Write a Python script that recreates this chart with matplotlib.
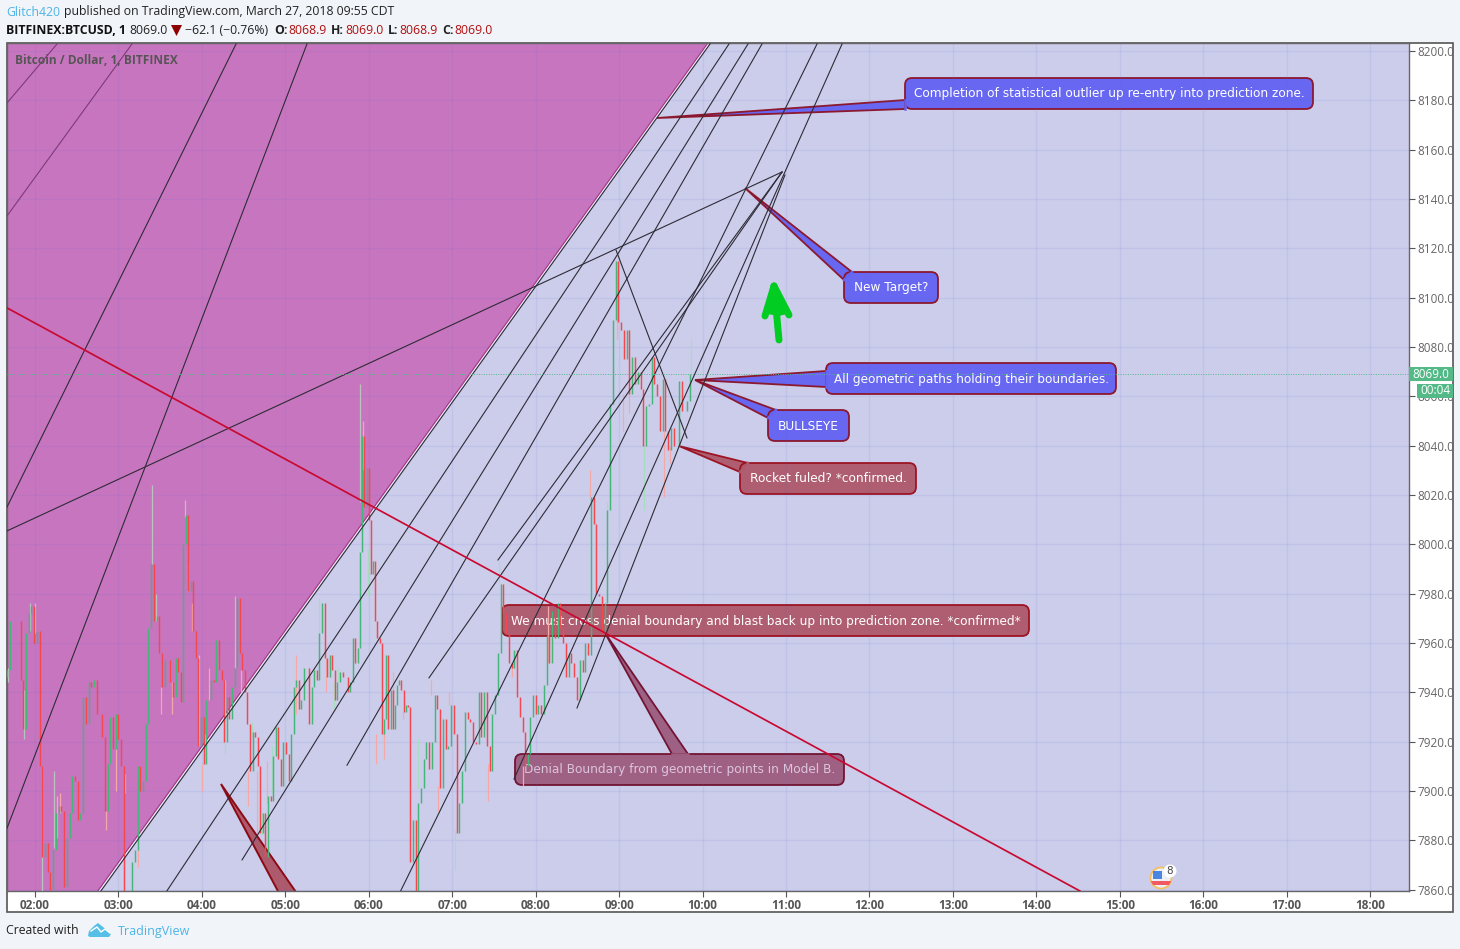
import numpy as np
import matplotlib
matplotlib.use("Agg")
import matplotlib.pyplot as plt
from matplotlib.patches import Polygon, Rectangle, Circle, FancyBboxPatch
from matplotlib.transforms import Affine2D

# 1 minute BTCUSD (every 2nd bar or so), prices in USD
closes_a = [7949, 7969, 7969, 7969, 7969, 7945, 7925, 7964, 7972, 7975, 7960, 7965, 7910, 7873, 7879, 7867,
            7860, 7876, 7891, 7894, 7892, 7861, 7881, 7891, 7906, 7904, 7888, 7891, 7938, 7927, 7944, 7942,
            7945, 7931, 7931, 7922, 7892, 7911, 7930, 7917, 7931, 7921, 7910, 7859, 7855, 7855, 7871, 7876,
            7910, 7900, 7904, 7927, 7966, 7992, 7969, 7971, 7956, 7942, 7953, 7953, 7944, 7938, 7954, 7948,
            7936]
closes_b = [8000, 8012, 7981, 7985, 7965, 7954, 7918, 7930, 7911, 7937, 7937, 7945, 7944, 7961, 7949, 7945,
            7920, 7938, 7929, 7942, 7950, 7978, 7956, 7949, 7940, 7927, 7908, 7924, 7922, 7910, 7883, 7891,
            7873, 7898, 7896, 7914, 7926, 7913, 7902, 7920, 7915, 7904, 7923, 7942, 7945, 7933, 7937, 7950,
            7950, 7927, 7942, 7949, 7945, 7964, 7976, 7954, 7946, 7955, 7949, 7937, 7944, 7948, 7946, 7946,
            7940, 7944, 7962, 7952, 7958]
closes_c = [7997, 8044, 8015, 8031, 8010, 7988, 7993, 7969, 7962, 7960, 7923,
            7929, 7955, 7925, 7941, 7925, 7935, 7943, 7945, 7941, 7932, 7935, 7934]
closes_e = [7871, 7888, 7859, 7895,
            7901, 7913, 7920, 7909, 7920, 7939, 7933, 7901, 7929, 7917, 7918, 7935, 7923, 7883, 7895, 7908,
            7932, 7929, 7928, 7920, 7919, 7940, 7922, 7940, 7918, 7908, 7931, 7939, 7956, 7984, 7972, 7964,
            7952, 7950, 7957, 7938, 7930, 7924, 7910, 7915]
closes_d = [7930, 7939, 7931, 7935, 7931, 7943, 7963, 7952, 7973, 7962, 7976, 7966, 7960, 7946, 7956, 7952,
            7946, 7937, 7953, 7948, 7960, 7955, 8019, 8008, 7980, 7979, 7964, 7976, 8014, 8057, 8091, 8115,
            8090, 8087, 8075, 8087, 8061, 8076, 8065, 8070, 8063, 8040, 8056, 8057, 8076, 8065, 8060, 8046,
            8067, 8046, 8038, 8047, 8040, 8040, 8066, 8054, 8054, 8058, 8069, 8069]
# hour of first and last bar for each block
block_a = (1.664, 3.750)
block_b = (3.774, 5.871)
block_c = (5.895, 6.470)
block_e = (6.494, 7.908)
block_d = (7.932, 9.885)

wick_hour = [1.676, 1.868, 1.937, 2.0, 2.084, 2.228, 2.264, 2.30, 2.851, 2.974, 3.079, 3.234, 3.402, 3.450, 3.510,
             3.642, 3.797, 3.833, 3.881, 3.965, 4.001, 4.037, 4.085, 4.205, 4.277, 4.397, 4.469, 4.552, 4.600,
             4.660, 4.720, 4.780, 4.840, 5.128, 5.403, 5.487, 5.583, 5.631, 5.895, 5.925, 5.990, 6.086, 6.188,
             6.290, 6.410, 6.590, 6.745, 6.829, 6.957, 7.033, 7.434, 7.560, 7.716, 7.848, 8.147, 8.651, 8.854,
             8.974, 9.046, 9.118, 9.294, 9.537, 9.609, 9.857]
wick_high = [7950, 7941, 7976, 7976, 7909, 7908, 7898, 7899, 7892, 7917, 7907, 7876, 8024, 7980, 7942,
             7944, 8018, 7992, 7976, 7955, 7911, 7923, 7950, 7955, 7945, 7979, 7949, 7908, 7928,
             7908, 7891, 7912, 7918, 7955, 7978, 7954, 7944, 7950, 8065, 8050, 7998, 7923, 7925,
             7948, 7932, 7921, 7945, 7902, 7940, 7884, 7911, 7993, 7952, 7910, 7975, 8030, 8017,
             8111, 8061, 8065, 8040, 8046, 8040, 8083]
wick_low = [7944, 7921, 7965, 7964, 7859, 7877, 7881, 7891, 7884, 7900, 7899, 7869, 7992, 7969, 7931,
            7931, 8011, 7981, 7965, 7918, 7900, 7911, 7937, 7949, 7915, 7950, 7940, 7894, 7922,
            7883, 7882, 7895, 7899, 7931, 7964, 7940, 7933, 7944, 8017, 8030, 7979, 7911, 7913,
            7935, 7929, 7901, 7939, 7892, 7935, 7868, 7896, 7984, 7946, 7902, 7952, 8019, 8012,
            8083, 8046, 8053, 8014, 8019, 8033, 8069]
wick_kind = "sssssssrrrrrssrrssrsrgrsgsrrgrgrgrgrggsrgrrrrgrrrgrgrrrrgrrrgrrg"

# trend lines: hour0, price0, hour1, price1
thin_lines = [(1.665, 8178.9, 2.264, 8202.8), (1.665, 8133.1, 3.162, 8202.8)]
black_lines = [(1.665, 8015.1, 4.409, 8202.8), (1.665, 7884.9, 5.259, 8202.8), (1.665, 8005.4, 10.952, 8150.9),
               (8.962, 8119.3, 9.813, 8043.1), (2.779, 7858.9, 10.089, 8202.8), (3.570, 7858.9, 10.316, 8202.8),
               (4.481, 7872.0, 10.544, 8202.8), (5.739, 7910.4, 10.712, 8202.8), (6.721, 7945.8, 10.952, 8150.9),
               (7.548, 7993.6, 10.952, 8150.9), (6.374, 7858.9, 11.371, 8202.8), (7.740, 7904.8, 11.671, 8202.8),
               (8.495, 7933.6, 10.987, 8149.7)]
denial_line = (1.665, 8095.8, 14.522, 7859.4)
zone_edge = (2.743, 7858.9, 10.065, 8203.2)
gap_line = (2.761, 7858.9, 10.077, 8203.0)
last_price = 8069.0

hours = list(range(2, 19))
prices = list(range(7860, 8201, 20))

BLUE = '#6464f2'
RED = '#ad5a6c'
PLUM = '#9e5e80'
EDGE = '#8c1428'

callouts = [
    ("Completion of statistical outlier up re-entry into prediction zone.", (905, 78, 1313, 109), (657, 118), [(905, 100), (905, 109)], BLUE, EDGE, 'white'),
    ("New Target?", (844, 272, 938, 303), (745, 188), [(852, 272), (844, 280)], BLUE, EDGE, 'white'),
    ("All geometric paths holding their boundaries.", (826, 363, 1116, 394), (695, 380), [(826, 371), (826, 387)], BLUE, EDGE, 'white'),
    ("BULLSEYE", (768, 410, 849, 441), (695, 380), [(776, 410), (768, 418)], BLUE, EDGE, 'white'),
    ("Rocket fuled? *confirmed.", (740, 463, 916, 494), (679, 446), [(748, 463), (740, 472)], RED, '#9c1020', 'white'),
    ("We must cross denial boundary and blast back up into prediction zone. *confirmed*", (502, 605, 1029, 636), None, None, RED, '#9c1020', 'white'),
    ("Denial Boundary from geometric points in Model B.", (515, 754, 844, 785), (605, 633), [(672, 754), (688, 754)], PLUM, '#70102f', '#dcc4dc'),
]

fig = plt.figure(figsize=(14.6, 9.49), dpi=100, facecolor='#f1f4f8')
px = Affine2D().scale(1, -1).translate(0, 949)

fig.add_artist(Rectangle((7, 43), 1446, 869, transform=px, fc='white', ec='#555555', lw=1.2, zorder=-1))

ax = fig.add_axes([7 / 1460, (949 - 891) / 949, 1402 / 1460, 848 / 949], zorder=1)
ax.set_xlim(1.6645, 18.465)
ax.set_ylim(7859.4, 8203.2)
ax.set_facecolor('#cccdeb')

# zone above the channel
ax.add_patch(Polygon([(1.0, zone_edge[1]), (zone_edge[0], zone_edge[1]), (zone_edge[2], zone_edge[3]), (1.0, zone_edge[3])],
                     fc='#c875bf', ec='none', zorder=1))
ax.plot([zone_edge[0], zone_edge[2]], [zone_edge[1], zone_edge[3]], color='#a83a8c', lw=1.0, zorder=1.2)
ax.plot([gap_line[0], gap_line[2]], [gap_line[1], gap_line[3]], color='white', lw=0.8, alpha=0.7, zorder=1.2)

ax.set_xticks(hours)
ax.set_xticklabels(['%02d:00' % h for h in hours], fontsize=8.5, color='#555555', fontweight='bold', family='Open Sans')
ax.yaxis.tick_right()
ax.set_yticks(prices)
ax.set_yticklabels(['%.1f' % p for p in prices], fontsize=8.5, color='#666666', family='Open Sans')
ax.tick_params(axis='x', length=4, width=0.8, color='#555555', pad=1.5)
ax.tick_params(axis='y', length=4, width=0.8, color='#555555', pad=2)
ax.grid(True, color='#5a6ad0', alpha=0.10, lw=1.0, zorder=1.5)
ax.set_axisbelow(False)
for gl in ax.get_xgridlines() + ax.get_ygridlines():
    gl.set_zorder(1.5)
for s in ax.spines.values():
    s.set_color('#666666')
    s.set_linewidth(1.0)

# callouts under the bars, the bars show on top of them
for label, box, tip, base, fill, edge, tcolor in callouts:
    x0, y0, x1, y1 = box
    r = 7
    if tip is not None:
        ax.add_patch(Polygon([tip, base[0], base[1]], transform=px, fc=fill, ec=edge, lw=1.3, alpha=0.97, zorder=2))
    ax.add_patch(FancyBboxPatch((x0 + r, y0 + r), x1 - x0 - 2 * r, y1 - y0 - 2 * r, boxstyle='round,pad=%d,rounding_size=%d' % (r, r),
                                transform=px, fc=fill, ec=edge, lw=1.3, alpha=0.97, zorder=2.1))
    if tip is not None:
        # open the border where the tail joins the box
        ax.plot([base[0][0], base[1][0]], [base[0][1], base[1][1]], transform=px, color=fill, lw=1.8, zorder=2.15)
    ax.text((x0 + x1) / 2, (y0 + y1) / 2 + 0.5, label, transform=px, ha='center', va='center', color=tcolor, fontsize=8.7,
            family='DejaVu Sans', zorder=2.2)

# tail of a callout sitting below the visible range
ax.add_patch(Polygon([(221, 784), (298, 895), (280, 895)], transform=px, fc=RED, ec='#8c0a14', lw=1.4, zorder=2))

# bars
closes = np.array(closes_a + closes_b + closes_c + closes_e + closes_d, dtype=float)
bar_hours = np.concatenate([np.linspace(*block_a, len(closes_a)), np.linspace(*block_b, len(closes_b)),
                            np.linspace(*block_c, len(closes_c)), np.linspace(*block_e, len(closes_e)),
                            np.linspace(*block_d, len(closes_d))])
opens = np.concatenate([[closes[0] - 3], closes[:-1]])
wick_colors = {'s': '#b9c4c0', 'r': '#f5a8a8', 'g': '#a8dcc0'}
ax.vlines(wick_hour, wick_low, wick_high, colors=[wick_colors[k] for k in wick_kind], lw=0.9, zorder=2.8)
bar_colors = ['#45b57a' if c >= o else '#f4474f' for o, c in zip(opens, closes)]
ax.vlines(bar_hours, opens, closes, colors=bar_colors, lw=1.05, zorder=3)

for h0, p0, h1, p1 in thin_lines:
    ax.plot([h0, h1], [p0, p1], color='#7c3a78', lw=0.8, zorder=4)
for h0, p0, h1, p1 in black_lines:
    ax.plot([h0, h1], [p0, p1], color='#2e2b36', lw=0.8, zorder=4)
ax.plot([denial_line[0], denial_line[2]], [denial_line[1], denial_line[3]], color='#c80a32', lw=1.25, zorder=4.2)
ax.axhline(last_price, color='#53b987', lw=0.7, ls=(0, (1, 1.5)), zorder=4)

# green arrow
ax.add_patch(Polygon([(774, 286), (787, 314), (779, 316), (767, 314)], transform=px, fc='#00cc22', ec='none', zorder=5))
for a, b in [((774, 286), (779, 340)), ((774, 286), (765, 316)), ((774, 286), (789, 315))]:
    ax.plot([a[0], b[0]], [a[1], b[1]], transform=px, color='#00cc22', lw=5, solid_capstyle='round', zorder=5)

ax.text(15, 60, "Bitcoin / Dollar, 1, BITFINEX", transform=px, fontsize=8.55, color='#555555', fontweight='bold', va='center',
        family='Open Sans', zorder=5)

# event badge
badge = Circle((1161, 878), 10.5, transform=px, fc='#eef0f8', ec='#f4bf5e', lw=1.3, zorder=5)
ax.add_patch(badge)
flag_blue = Rectangle((1153, 871), 9, 8, transform=px, fc='#4a86e0', ec='none', zorder=5.1)
flag_red = Rectangle((1150, 881), 22, 3.5, transform=px, fc='#f05a60', ec='none', zorder=5.1)
ax.add_patch(flag_blue)
ax.add_patch(flag_red)
flag_red.set_clip_path(badge)
ax.add_patch(Circle((1170, 871), 6.5, transform=px, fc='white', ec='none', zorder=5.2))
ax.text(1170, 871, "8", transform=px, ha='center', va='center', fontsize=7.5, color='#444444', zorder=5.3)

# last price labels
fig.add_artist(Rectangle((1409, 367), 44, 14, transform=px, fc='#53b987', ec='none', zorder=10))
fig.add_artist(Rectangle((1417, 384), 36, 14, transform=px, fc='#53b987', ec='none', zorder=10))
fig.text(1431, 374, "8069.0", transform=px, color='white', fontsize=8.5, ha='center', va='center', family='Open Sans', zorder=11)
fig.text(1435, 391, "00:04", transform=px, color='white', fontsize=8.5, ha='center', va='center', family='Open Sans', zorder=11)

# header
HF = 'Open Sans'
FS = 8.8
fig.text(6, 12, "Glitch420", transform=px, color='#4db4e6', fontsize=FS, va='center', family=HF)
fig.text(64, 12, "published on TradingView.com, March 27, 2018 09:55 CDT", transform=px, color='#222222', fontsize=FS, va='center', family=HF)
fig.text(6, 30, "BITFINEX:BTCUSD, 1", transform=px, color='#111111', fontsize=FS, va='center', fontweight='bold', family=HF)
fig.text(129, 30, "8069.0", transform=px, color='#222222', fontsize=FS, va='center', family=HF)
fig.add_artist(Polygon([(171, 25), (182, 25), (176.5, 36)], transform=px, fc='#8c0000', ec='none'))
fig.text(185, 30, "\u221262.1 (\u22120.76%)", transform=px, color='#222222', fontsize=FS, va='center', family=HF)
for lx, vx, name, val in [(274, 288, "O:", "8068.9"), (331, 345, "H:", "8069.0"), (388, 399, "L:", "8068.9"), (442, 454, "C:", "8069.0")]:
    fig.text(lx, 30, name, transform=px, color='#222222', fontsize=FS, va='center', fontweight='bold', family=HF)
    fig.text(vx, 30, val, transform=px, color='#b01010', fontsize=FS, va='center', family=HF)

# footer
fig.text(6, 931, "Created with", transform=px, color='#222222', fontsize=FS, va='center', family=HF)
fig.add_artist(Polygon([(88, 936), (89, 931), (94, 926), (98, 923), (103, 927), (107, 930), (111, 934), (109, 937), (90, 937)],
                       transform=px, fc='#55bfe8', ec='none'))
fig.add_artist(plt.Line2D([91, 97, 101, 105, 110], [931, 927, 932, 929, 933], transform=px, color='white', lw=1.0))
fig.text(118, 931, "TradingView", transform=px, color='#4db4e6', fontsize=9.0, va='center', family=HF)

fig.savefig('out.png', dpi=100, facecolor=fig.get_facecolor())
